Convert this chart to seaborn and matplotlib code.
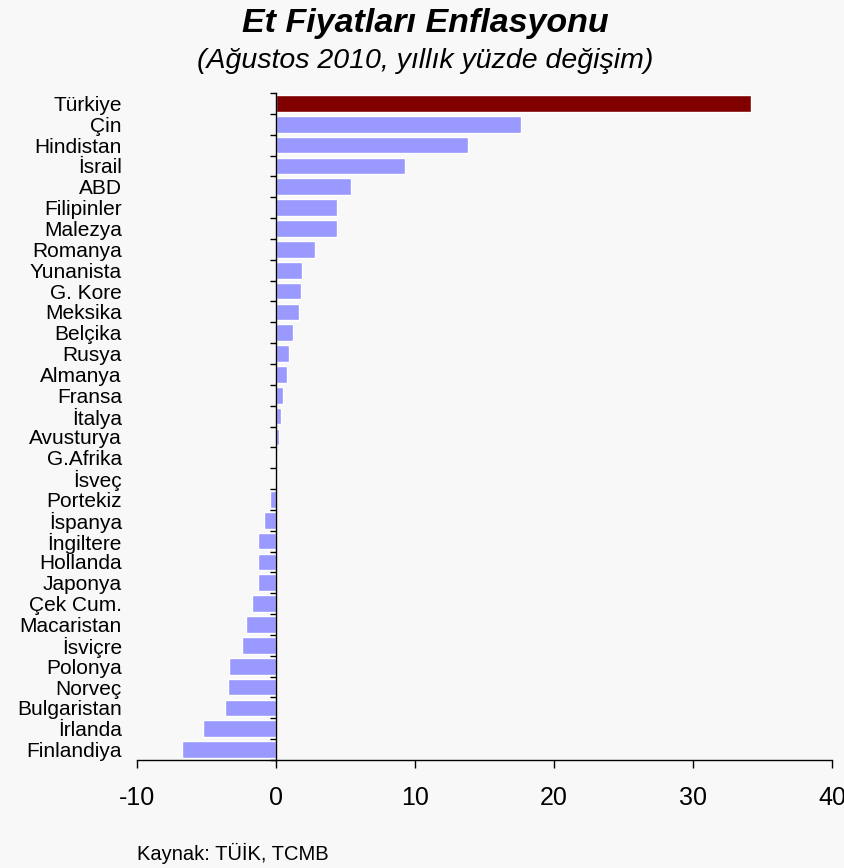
import matplotlib
matplotlib.use("Agg")
import matplotlib.pyplot as plt
import seaborn as sns
import pandas as pd
import numpy as np
from matplotlib.ticker import FixedLocator

countries = ["Türkiye", "Çin", "Hindistan", "İsrail", "ABD", "Filipinler", "Malezya",
             "Romanya", "Yunanista", "G. Kore", "Meksika", "Belçika", "Rusya", "Almanya",
             "Fransa", "İtalya", "Avusturya", "G.Afrika", "İsveç", "Portekiz", "İspanya",
             "İngiltere", "Hollanda", "Japonya", "Çek Cum.", "Macaristan", "İsviçre",
             "Polonya", "Norveç", "Bulgaristan", "İrlanda", "Finlandiya"]
values = [34.2, 17.6, 13.8, 9.25, 5.4, 4.4, 4.4,
          2.8, 1.9, 1.8, 1.65, 1.2, 0.9, 0.78,
          0.48, 0.34, 0.19, -0.1, -0.1, -0.45, -0.88,
          -1.3, -1.3, -1.3, -1.73, -2.16, -2.45,
          -3.38, -3.45, -3.67, -5.24, -6.74]
x_ticks = [-10, 0, 10, 20, 30, 40]

highlight = "Türkiye"
bar_color = "#9999FF"
highlight_color = "#800000"
bg = "#F8F8F8"

sns.set_style("white")
plt.rcParams['font.family'] = ['Liberation Sans', 'DejaVu Sans']

df = pd.DataFrame({"country": countries, "value": values})
palette = {c: (highlight_color if c == highlight else bar_color) for c in countries}

fig = plt.figure(figsize=(8.45, 8.68), dpi=100, facecolor=bg)
ax = fig.add_axes([137/845, 1-760/868, (832-137)/845, (760-93)/868])
ax.set_facecolor(bg)

sns.barplot(data=df, x="value", y="country", hue="country", palette=palette,
            orient="h", width=0.8, legend=False, ax=ax, saturation=1)

n = len(countries)
ax.set_xlim(-10, 40)
ax.set_ylim(n - 0.5, -0.5)
ax.set_xlabel("")
ax.set_ylabel("")

ax.spines['top'].set_visible(False)
ax.spines['right'].set_visible(False)
ax.spines['left'].set_position(('data', 0))
for s in ['left', 'bottom']:
    ax.spines[s].set_color('black')
    ax.spines[s].set_linewidth(1.0)

# y ticks: boundaries (major, no labels), centers (minor, labels)
ax.yaxis.set_major_locator(FixedLocator(np.arange(n + 1) - 0.5))
ax.yaxis.set_minor_locator(FixedLocator(np.arange(n)))
ax.set_yticklabels([], minor=False)
ax.set_yticklabels(countries, minor=True)
ax.tick_params(axis='y', which='major', length=4, width=1, color='black', direction='out', left=True)
ax.tick_params(axis='y', which='minor', length=0, pad=111, labelsize=15, labelcolor='black')

ax.set_xticks(x_ticks)
ax.set_xticklabels([str(t) for t in x_ticks])
ax.tick_params(axis='x', which='major', length=6, width=1, color='black', direction='out',
               bottom=True, labelsize=18, pad=13, labelcolor='black')

fig.text(0.503, 0.973, "Et Fiyatları Enflasyonu", ha='center', va='center',
         fontsize=24.5, fontweight='bold', fontstyle='italic', color='black')
fig.text(0.503, 0.930, "(Ağustos 2010, yıllık yüzde değişim)", ha='center', va='center',
         fontsize=20.5, fontstyle='italic', color='black')
fig.text(137/845, 1-853/868, "Kaynak: TÜİK, TCMB", ha='left', va='center',
         fontsize=14.5, color='black')

fig.savefig("out.png", dpi=100, facecolor=bg)
